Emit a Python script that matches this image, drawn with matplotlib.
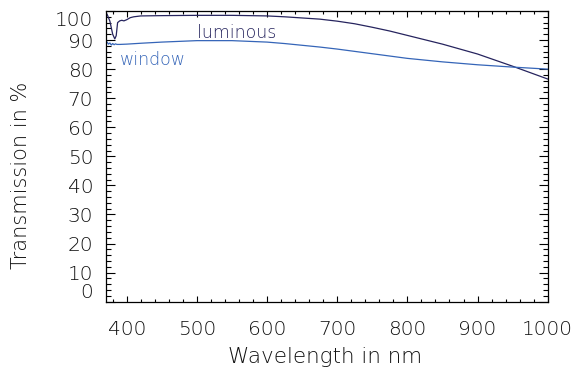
import matplotlib
matplotlib.use("Agg")
import matplotlib.pyplot as plt
from matplotlib.ticker import MultipleLocator

# Data
wl_lum = [372, 376, 380, 383, 385, 387, 390, 393, 396, 400, 405, 410, 420, 450,
          500, 550, 600, 625, 650, 675, 700, 725, 750, 775, 800, 850, 900, 950, 1000]
luminous = [98.9, 96.5, 92.0, 90.4, 91.5, 96.0, 96.6, 96.8, 96.6, 97.0, 97.7, 98.0,
            98.3, 98.4, 98.5, 98.5, 98.3, 98.0, 97.6, 97.2, 96.5, 95.6, 94.4, 93.1,
            91.6, 88.6, 85.2, 81.0, 76.6]

wl_win = [372, 374, 376, 378, 380, 382, 384, 386, 390, 400, 420, 450, 500, 550,
          600, 625, 650, 675, 700, 725, 750, 800, 850, 900, 950, 1000]
window = [89.3, 88.6, 89.0, 88.3, 88.8, 88.4, 88.7, 88.5, 88.5, 88.6, 88.9, 89.3,
          89.8, 89.8, 89.3, 88.8, 88.2, 87.6, 86.9, 86.1, 85.3, 83.7, 82.5, 81.5,
          80.7, 80.0]

xticks = [400, 500, 600, 700, 800, 900, 1000]
yticks = [0, 10, 20, 30, 40, 50, 60, 70, 80, 90, 100]

LUM_C = "#26245e"
WIN_C = "#3565b8"
TXT_C = "#111111"
FONT = dict(family="DejaVu Sans", weight="light")

fig = plt.figure(figsize=(5.8, 3.75), dpi=100)
ax = fig.add_axes([0.1822, 0.1955, 0.7621, 0.7752])

ax.plot(wl_lum, luminous, color=LUM_C, lw=0.9)
ax.plot(wl_win, window, color=WIN_C, lw=0.9)

ax.text(500, 92.5, "luminous", color=LUM_C, fontsize=12.5, va="center", ha="left", **FONT)
ax.text(390, 83.2, "window", color=WIN_C, fontsize=12.5, va="center", ha="left", **FONT)

ax.set_xlim(370, 1000)
ax.set_ylim(0, 100)
ax.set_xticks(xticks)
ax.set_xticklabels([str(v) for v in xticks])
ax.set_yticks(yticks)
ax.set_yticklabels([str(v) for v in yticks])
ax.xaxis.set_minor_locator(MultipleLocator(20))
ax.yaxis.set_minor_locator(MultipleLocator(2))

ax.tick_params(axis="both", which="both", direction="in", top=True, right=True,
               width=0.8, colors="black")
ax.tick_params(axis="x", which="major", length=4.0, pad=13)
ax.tick_params(axis="x", which="minor", length=2.0)
ax.tick_params(axis="y", which="major", length=6.2, pad=9)
ax.tick_params(axis="y", which="minor", length=3.3)

for lab in ax.get_xticklabels() + ax.get_yticklabels():
    lab.set_fontsize(14.5)
    lab.set_fontfamily("DejaVu Sans")
    lab.set_fontweight("light")
    lab.set_color(TXT_C)

ticks = ax.yaxis.get_major_ticks()
ticks[0].label1.set_va("bottom")
ticks[-1].label1.set_va("top")

for s in ax.spines.values():
    s.set_linewidth(0.9)

ax.set_xlabel("Wavelength in nm", fontsize=15.5, color=TXT_C, **FONT)
ax.set_ylabel("Transmission in %", fontsize=15, color=TXT_C, **FONT)
ax.xaxis.set_label_coords(0.496, -0.19)
ax.yaxis.set_label_coords(-0.192, 0.436)
ax.xaxis.label.set_va("center")
ax.yaxis.label.set_va("center")

fig.savefig("out.png", dpi=100)
